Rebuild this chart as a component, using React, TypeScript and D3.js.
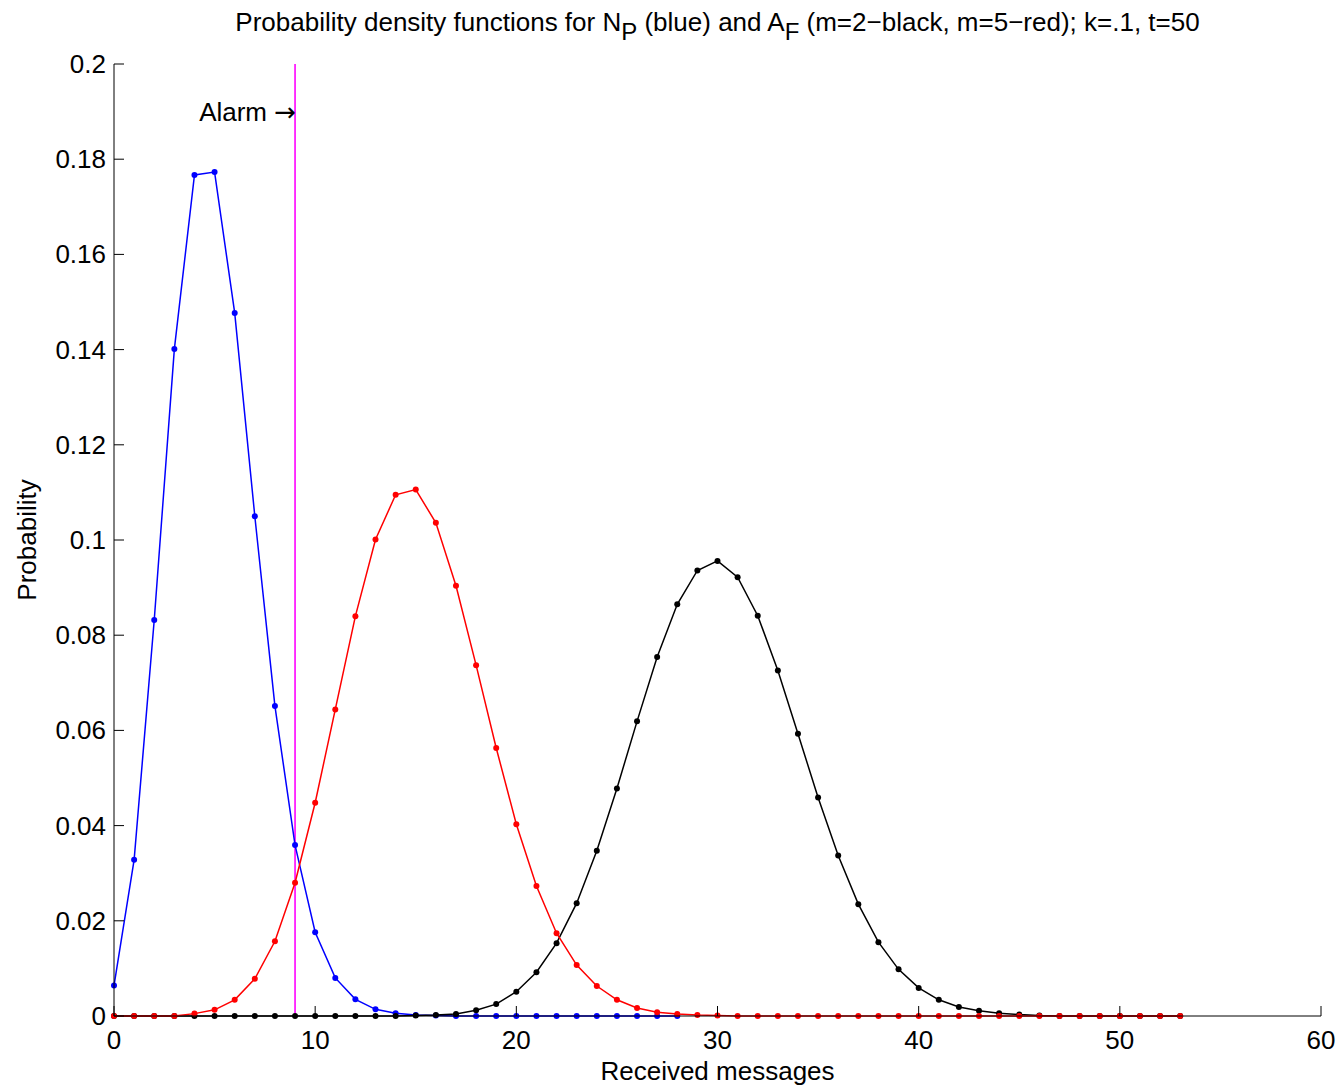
import React from "react";
import { scaleLinear, line, range } from "d3";

// N_P (blue), values, x = 0..28
const blueVals = [
  0.0064, 0.0328, 0.0832, 0.1401, 0.1767, 0.1773, 0.1477, 0.105, 0.0651,
  0.0359, 0.0176, 0.008, 0.0035, 0.0014, 0.0006, 0.0002, 0.0001, 0, 0, 0, 0,
  0, 0, 0, 0, 0, 0, 0, 0,
];

// A_F, m=5 (red), x = 0..53
const redVals = [
  0, 0, 0, 0, 0.0005, 0.0013, 0.0034, 0.0078, 0.0157, 0.028, 0.0448, 0.0644,
  0.084, 0.1001, 0.1095, 0.1106, 0.1036, 0.0904, 0.0737, 0.0563, 0.0403,
  0.0273, 0.0174, 0.0107, 0.0063, 0.0034, 0.0017, 0.0008, 0.0004, 0.0002,
  0.0001, 0, 0, 0, 0, 0, 0, 0, 0, 0, 0, 0, 0, 0, 0, 0, 0, 0, 0, 0, 0, 0, 0, 0,
];

// A_F, m=2 (black), x = 0..53
const blackVals = [
  0, 0, 0, 0, 0, 0, 0, 0, 0, 0, 0, 0, 0, 0, 0, 0.0001, 0.0002, 0.0004, 0.0012,
  0.0025, 0.0051, 0.0092, 0.0153, 0.0237, 0.0347, 0.0478, 0.0619, 0.0754,
  0.0865, 0.0936, 0.0956, 0.0922, 0.0841, 0.0726, 0.0593, 0.0459, 0.0337,
  0.0235, 0.0155, 0.0098, 0.0059, 0.0034, 0.0019, 0.0011, 0.0006, 0.0003,
  0.0001, 0, 0, 0, 0, 0, 0, 0,
];

const alarmX = 9;
const xTicks = [0, 10, 20, 30, 40, 50, 60];
const yTicks = [0, 0.02, 0.04, 0.06, 0.08, 0.1, 0.12, 0.14, 0.16, 0.18, 0.2];

const W = 1342;
const H = 1090;
const margin = { left: 114, right: 21, top: 64, bottom: 74 };
const font = "'Liberation Sans', Arial, Helvetica, sans-serif";
const fs = 26;

const App = () => {
  const x = scaleLinear().domain([0, 60]).range([margin.left, W - margin.right]);
  const y = scaleLinear().domain([0, 0.2]).range([H - margin.bottom, margin.top]);

  const path = line<number>()
    .x((d, i) => x(i))
    .y((d) => y(d));

  const series = [
    { vals: blueVals, color: "#0000ff" },
    { vals: blackVals, color: "#000000" },
    { vals: redVals, color: "#ff0000" },
  ];

  const tickLen = 10;
  const ax = x(alarmX);

  return (
    <svg width={W} height={H} style={{ position: "absolute", left: 0, top: 0 }} fontFamily={font}>
      <rect width={W} height={H} fill="#fff" />

      {/* alarm line */}
      <line x1={ax} x2={ax} y1={y(0.2)} y2={y(0)} stroke="#ff00ff" strokeWidth={1.6} />
      <text x={ax + 1} y={y(0.19) + 9} fontSize={fs} textAnchor="end">
        Alarm <tspan fontFamily="'DejaVu Sans', sans-serif" fontSize={26}>→</tspan>
      </text>

      {series.map((s, si) => (
        <g key={si}>
          <path d={path(s.vals) || ""} fill="none" stroke={s.color} strokeWidth={1.5} />
          {range(s.vals.length).map((i) => (
            <circle key={i} cx={x(i)} cy={y(s.vals[i])} r={3} fill={s.color} />
          ))}
        </g>
      ))}

      {/* axes */}
      <line x1={x(0)} x2={x(60)} y1={y(0)} y2={y(0)} stroke="#000" />
      <line x1={x(0)} x2={x(0)} y1={y(0)} y2={y(0.2)} stroke="#000" />
      {xTicks.map((t) => (
        <g key={t}>
          <line x1={x(t)} x2={x(t)} y1={y(0)} y2={y(0) - tickLen} stroke="#000" />
          <text x={x(t)} y={y(0) + 33} fontSize={fs} textAnchor="middle">
            {t}
          </text>
        </g>
      ))}
      {yTicks.map((t) => (
        <g key={t}>
          <line x1={x(0)} x2={x(0) + tickLen} y1={y(t)} y2={y(t)} stroke="#000" />
          <text x={x(0) - 8} y={y(t) + 9} fontSize={fs} textAnchor="end">
            {t === 0 ? "0" : String(+t.toFixed(2))}
          </text>
        </g>
      ))}

      <text x={(x(0) + x(60)) / 2} y={1080} fontSize={fs} textAnchor="middle">
        Received messages
      </text>
      <text transform={`translate(36, ${(y(0) + y(0.2)) / 2}) rotate(-90)`} fontSize={fs} textAnchor="middle">
        Probability
      </text>

      <text x={(x(0) + x(60)) / 2} y={31} fontSize={fs} textAnchor="middle">
        Probability density functions for N
        <tspan dy={9} fontSize={24}>P</tspan>
        <tspan dy={-9}> (blue) and A</tspan>
        <tspan dy={9} fontSize={24}>F</tspan>
        <tspan dy={-9}> (m=2−black, m=5−red); k=.1, t=50</tspan>
      </text>
    </svg>
  );
};

export default App;
